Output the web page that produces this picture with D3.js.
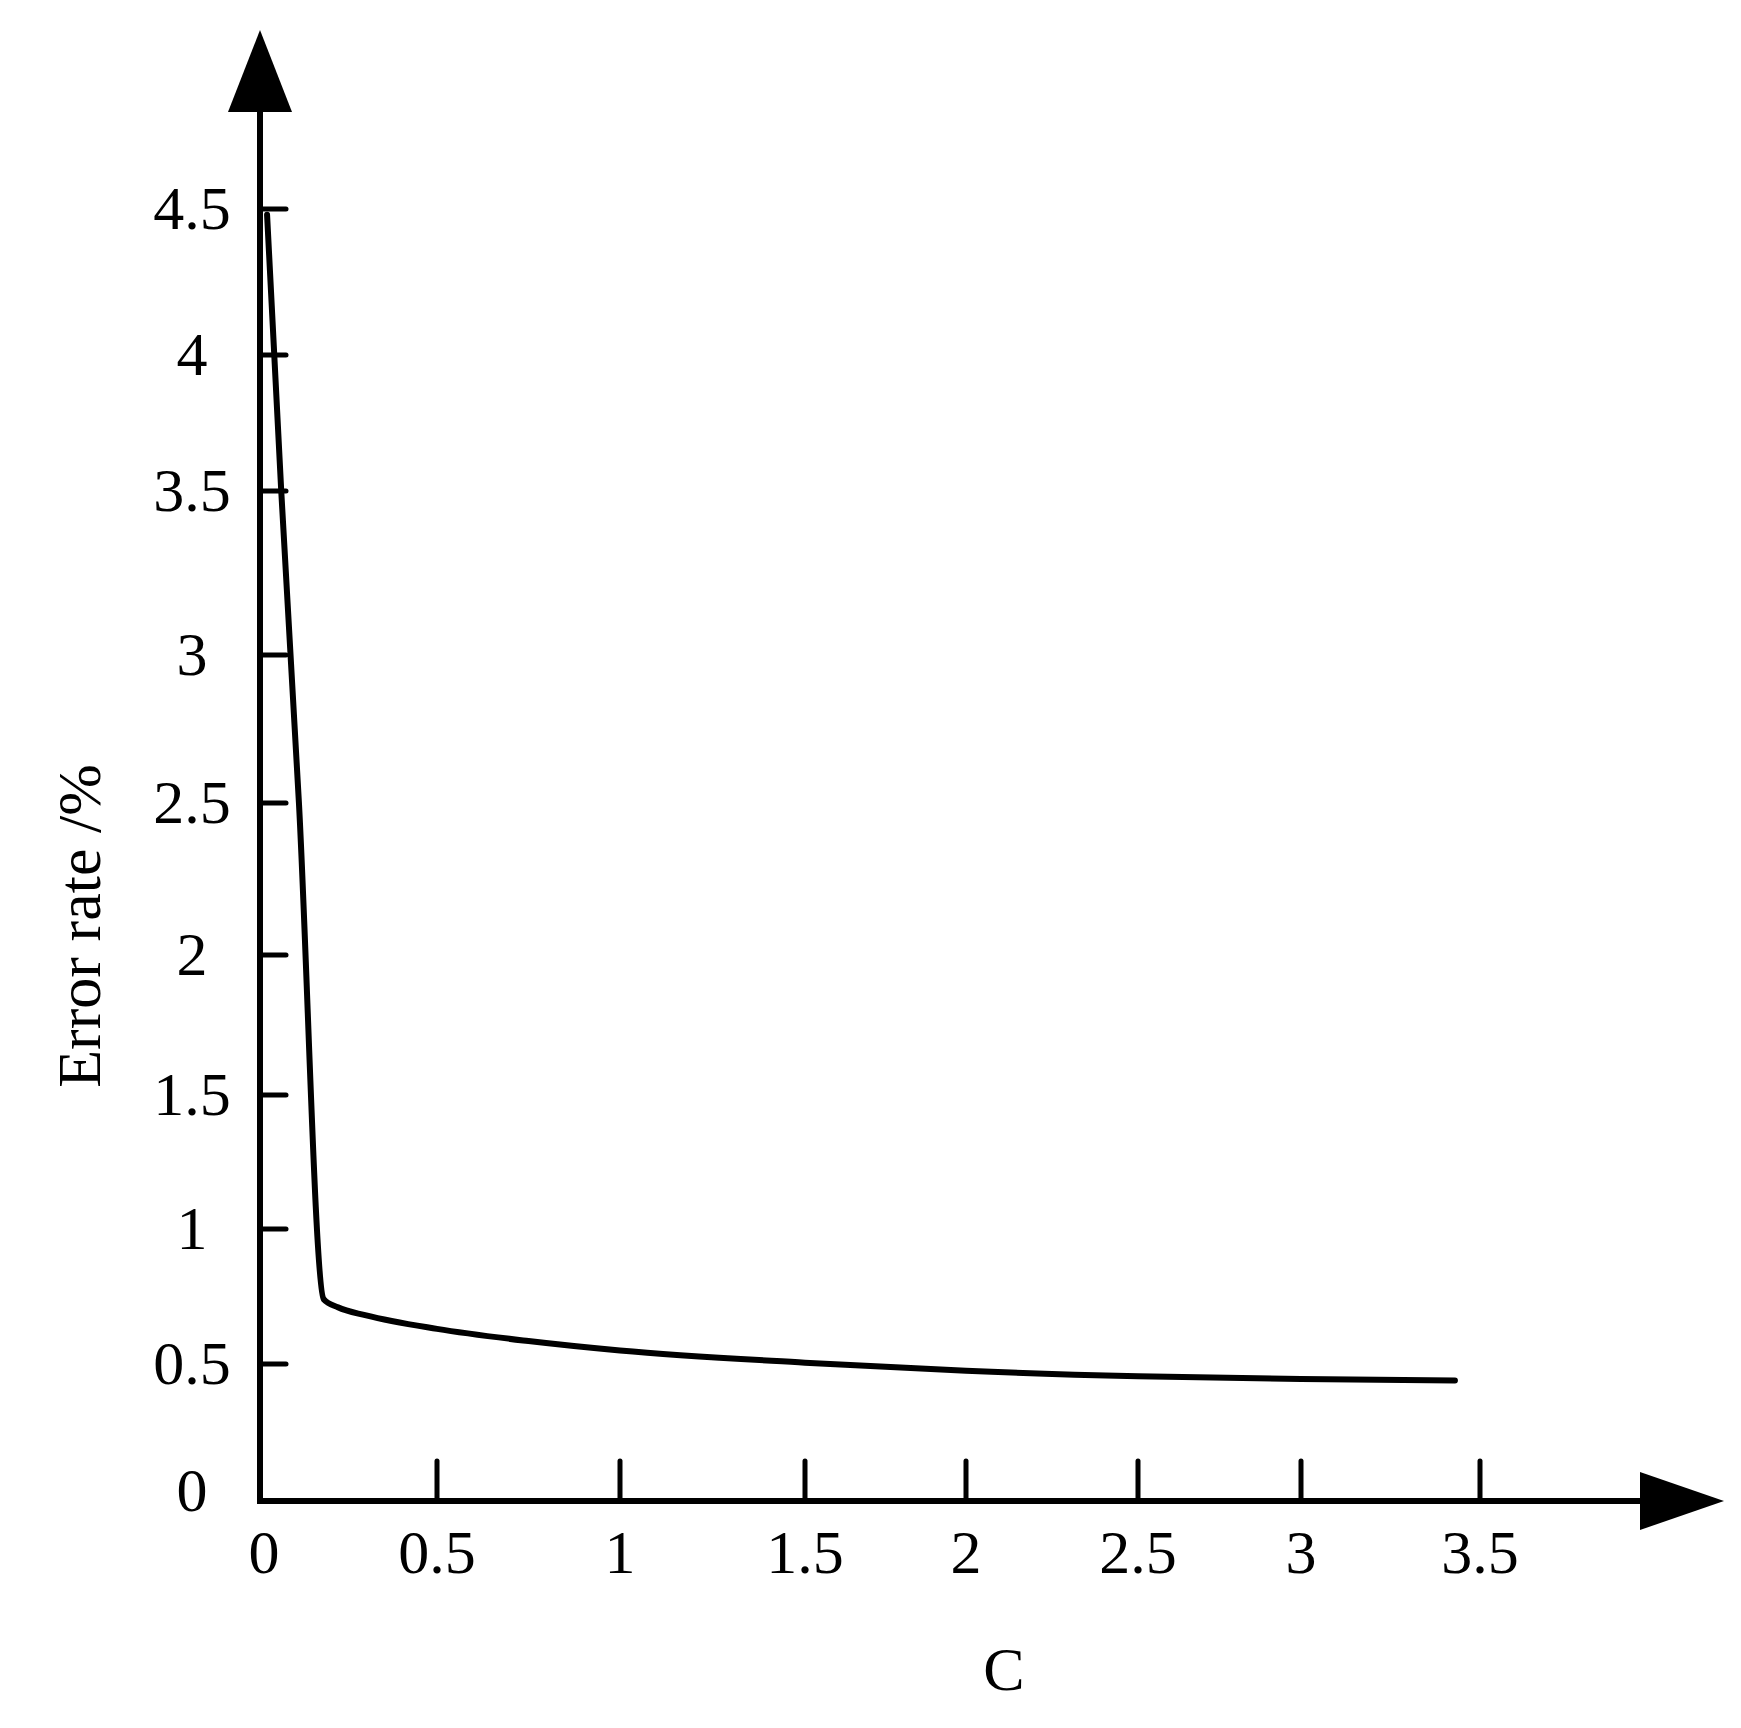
<!DOCTYPE html>
<meta charset="utf-8">
<style>
body { margin: 0; background: #fff; }
text { font-family: "Liberation Serif", "Times New Roman", serif; fill: #000; }
</style>
<svg width="1741" height="1728"></svg>
<script src="https://d3js.org/d3.v7.min.js"></script>
<script>

// tick values and where they sit (the original figure has uneven spacing)
var xTicks = [0, 0.5, 1, 1.5, 2, 2.5, 3, 3.5],
    xTickPx = [260, 437, 620, 805, 966, 1138, 1301, 1480];
var yTicks = [0, 0.5, 1, 1.5, 2, 2.5, 3, 3.5, 4, 4.5],
    yTickPx = [1501, 1364, 1229, 1095, 955, 803, 655, 491, 355, 209];

// curve
var cValues = [0.02, 0.06, 0.11, 0.18, 0.22, 0.3, 0.5, 0.75, 1, 1.5, 2, 2.5, 3, 3.43];
var errValues = [4.48, 3.5, 2.5, 0.74, 0.71, 0.68, 0.63, 0.585, 0.55, 0.505, 0.475, 0.455, 0.445, 0.44];

var svg = d3.select("svg");

var x = d3.scaleLinear().domain(xTicks).range(xTickPx);
var y = d3.scaleLinear().domain(yTicks).range(yTickPx);

var x0 = x(0), y0 = y(0);

// axes lines
svg.append("line").attr("x1", x0).attr("x2", 1645).attr("y1", y0).attr("y2", y0)
  .attr("stroke", "#000").attr("stroke-width", 6);
svg.append("line").attr("x1", x0).attr("x2", x0).attr("y1", y0 + 3).attr("y2", 108)
  .attr("stroke", "#000").attr("stroke-width", 6);

// arrow heads
svg.append("path").attr("d", "M" + (x0 - 32) + ",112L" + x0 + ",30L" + (x0 + 32) + ",112Z");
svg.append("path").attr("d", "M1640," + (y0 - 29) + "L1724," + y0 + "L1640," + (y0 + 29) + "Z");

// x ticks
svg.selectAll(".xt").data(xTicks.slice(1)).enter().append("line")
  .attr("x1", x).attr("x2", x).attr("y1", y0).attr("y2", y0 - 40)
  .attr("stroke", "#000").attr("stroke-width", 5).attr("stroke-linecap", "round");
svg.selectAll(".xl").data(xTicks).enter().append("text")
  .attr("x", function(d) { return x(d) + (d === 0 ? 4 : 0); })
  .attr("y", y0 + 72)
  .attr("text-anchor", "middle")
  .attr("font-size", 62)
  .text(function(d) { return d; });

// y ticks
svg.selectAll(".yt").data(yTicks.slice(1)).enter().append("line")
  .attr("x1", x0).attr("x2", x0 + 26).attr("y1", y).attr("y2", y)
  .attr("stroke", "#000").attr("stroke-width", 5).attr("stroke-linecap", "round");
svg.selectAll(".yl").data(yTicks).enter().append("text")
  .attr("x", 192)
  .attr("y", function(d) { return y(d) + (d === 0 ? 10 : 20); })
  .attr("text-anchor", "middle")
  .attr("font-size", 62)
  .text(function(d) { return d; });

// axis titles
svg.append("text").attr("x", 1004).attr("y", 1690).attr("text-anchor", "middle")
  .attr("font-size", 62).text("C");
svg.append("text").attr("transform", "translate(100,926) rotate(-90)")
  .attr("text-anchor", "middle").attr("font-size", 62).text("Error rate /%");

// curve
var line = d3.line().x(function(d) { return x(d[0]); }).y(function(d) { return y(d[1]); })
  .curve(d3.curveMonotoneX);
svg.append("path").datum(d3.zip(cValues, errValues))
  .attr("d", line).attr("fill", "none").attr("stroke", "#000")
  .attr("stroke-width", 6).attr("stroke-linejoin", "round").attr("stroke-linecap", "round");

</script>
